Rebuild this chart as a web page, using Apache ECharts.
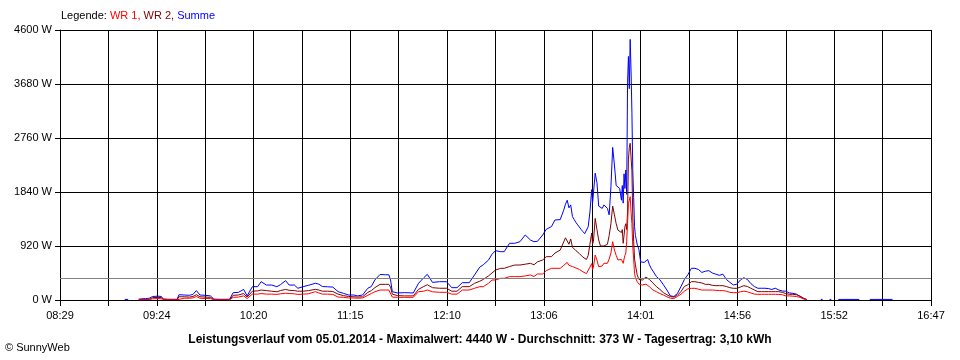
<!DOCTYPE html>
<html>
<head>
<meta charset="utf-8">
<script src="https://cdn.jsdelivr.net/npm/echarts@6/dist/echarts.min.js"></script>
<style>
html,body{margin:0;padding:0;background:#fff;}
#c{width:960px;height:360px;}
</style>
</head>
<body>
<div id="c"></div>
<script>
// ---- data ----
const times = ['09:06','09:08','09:09','09:14','09:18','09:20','09:22','09:25','09:27','09:28','09:32','09:36','09:37','09:40','09:43','09:45','09:47','09:49','09:52','09:55','09:57','10:00','10:03','10:06','10:08','10:11','10:14','10:16','10:19','10:22','10:24','10:27','10:30','10:33','10:35','10:38','10:40','10:43','10:45','10:48','10:51','10:55','10:57','10:59','11:02','11:05','11:08','11:11','11:14','11:17','11:19','11:22','11:25','11:27','11:29','11:32','11:35','11:37','11:38','11:39','11:42','11:46','11:51','11:54','11:57','11:59','12:02','12:06','12:10','12:13','12:16','12:19','12:23','12:26','12:29','12:31','12:34','12:36','12:38','12:41','12:43','12:46','12:49','12:52','12:55','12:58','13:00','13:02','13:05','13:07','13:10','13:12','13:15','13:16','13:17','13:18','13:19','13:20','13:21','13:22','13:23','13:24','13:25','13:26','13:27','13:28','13:29','13:30','13:31','13:32','13:33','13:33:30','13:34','13:35','13:36','13:37','13:38','13:39','13:40','13:41','13:42','13:43','13:44','13:45','13:46','13:47','13:48','13:49','13:50','13:50:30','13:51','13:51:30','13:52','13:52:30','13:53','13:53:30','13:54','13:54:30','13:55','13:55:30','13:56','13:56:30','13:57','13:57:30','13:58','13:59','14:00','14:01','14:02','14:03','14:04','14:05','14:06','14:07','14:08','14:10','14:12','14:14','14:16','14:18','14:20','14:22','14:24','14:26','14:28','14:30','14:32','14:34','14:36','14:38','14:40','14:42','14:44','14:46','14:48','14:50','14:52','14:54','14:56','14:58','15:00','15:02','15:04','15:06','15:08','15:10','15:12','15:14','15:16','15:18','15:20','15:22','15:24','15:26','15:28','15:30','15:32','15:34','15:36','15:37','15:44','15:45','15:46','15:49','15:50','15:51','15:54','16:06','16:07','16:12','16:25'];

const wr1 = [null,null,null,3,4,5,20,25,20,3,3,3,30,30,30,35,60,30,25,25,3,3,3,3,45,50,70,25,100,100,110,100,100,95,105,115,110,105,95,100,105,142,120,100,100,95,50,45,35,35,30,35,80,110,140,170,170,170,140,50,45,45,45,142,150,170,140,131,131,100,100,170,170,200,227,227,285,341,341,370,370,398,398,398,410,426,400,443,443,500,540,540,540,560,590,620,640,590,610,570,560,545,530,520,500,480,460,450,480,560,620,520,560,767,680,568,568,580,625,625,625,700,800,994,850,760,682,682,690,682,625,700,760,800,1000,1300,1647,1700,1760,1500,1300,909,700,455,380,312,270,256,256,260,270,240,227,200,170,142,110,85,55,30,25,60,97,150,190,199,199,185,170,170,170,170,165,160,160,150,130,125,125,140,150,140,120,100,97,97,97,97,97,97,95,90,70,70,65,60,45,20,3,null,null,null,null,null,null,null,null,null,null,null,null];

const wr2 = [null,null,null,5,8,10,40,45,40,5,5,5,55,55,50,60,90,55,50,45,5,5,5,5,80,85,110,50,150,155,170,160,150,140,160,180,165,160,150,150,160,182,170,150,150,145,100,75,60,55,50,55,130,160,210,267,267,267,220,100,75,70,70,182,230,260,210,200,200,150,150,227,227,284,320,350,410,460,511,540,540,570,596,596,610,625,600,650,682,738,738,800,850,920,990,1060,1080,950,1040,900,870,840,810,790,760,730,700,690,760,950,1140,950,1000,1390,1200,1022,920,900,920,900,950,1100,1300,1600,1450,1300,1190,1190,1150,1200,966,1100,1250,1300,1200,1500,2400,2600,2670,2650,2200,1400,1000,700,600,430,350,341,340,360,390,400,350,320,290,227,180,125,90,57,50,80,142,230,260,312,312,300,290,267,267,250,244,244,244,230,210,199,199,220,244,230,200,170,142,142,142,142,142,142,142,130,110,97,97,90,70,30,5,null,null,null,null,null,null,null,null,null,null,null,null];

const summe = [10,10,null,15,25,30,60,65,60,15,12,12,90,85,80,95,160,85,80,70,15,12,12,12,125,130,180,70,227,227,312,255,255,227,260,330,255,255,200,227,250,285,270,230,225,220,142,114,85,85,70,85,200,230,340,435,430,430,340,142,120,125,120,285,380,437,300,312,312,210,210,295,295,426,560,600,680,780,840,823,823,966,966,994,1108,1022,994,1000,1108,1204,1250,1363,1370,1450,1530,1630,1700,1570,1620,1420,1370,1320,1280,1250,1200,1165,1130,1120,1250,1500,1880,1650,1650,2160,2000,1600,1600,1560,1620,1600,1560,1450,1930,2600,2300,1950,1950,1900,1700,1950,1650,2150,1900,2215,1800,3700,4150,3600,4440,3900,3200,2200,1750,1250,1100,950,860,650,625,640,660,690,600,540,510,400,345,260,170,70,60,110,227,350,430,540,540,520,470,490,500,460,440,420,440,350,300,256,270,340,380,350,280,230,200,200,200,195,180,200,170,153,150,120,114,100,60,30,8,null,10,10,null,10,10,null,10,10,null,10,10];

const xTickLabels = ['08:29','09:24','10:20','11:15','12:10','13:06','14:01','14:56','15:52','16:47'];
const average = 373;
const titleText = 'Leistungsverlauf vom 05.01.2014 - Maximalwert: 4440 W - Durchschnitt: 373 W - Tagesertrag: 3,10 kWh';

// ---- helpers ----
const START = 8 * 60 + 29, END = 16 * 60 + 47;
const STEP = (END - START) / 18;
function toX(t) { const p = t.split(':').map(Number); return p[0] * 60 + p[1] + (p[2] || 0) / 60 - START; }
function pairs(vals) { return times.map((t, i) => [toX(t), vals[i] == null ? '-' : vals[i]]); }

const FONT = "'Liberation Sans', Arial, sans-serif";
const chart = echarts.init(document.getElementById('c'), null, { renderer: 'canvas' });

function lineSeries(name, vals, color, extra) {
  return Object.assign({
    name, type: 'line', data: pairs(vals), showSymbol: false, symbol: 'none',
    connectNulls: false, animation: false,
    lineStyle: { color, width: 1 }, itemStyle: { color }
  }, extra || {});
}

chart.setOption({
  animation: false,
  backgroundColor: '#ffffff',
  grid: { left: 60, right: 29, top: 30, bottom: 60, containLabel: false },
  title: {
    text: titleText, left: 'center', top: 329,
    textStyle: { fontFamily: FONT, fontSize: 12, fontWeight: 'bold', color: '#000' }
  },
  graphic: [
    {
      type: 'text', left: 61, top: 10,
      style: {
        text: '{a|Legende: }{b|WR 1, }{c|WR 2, }{d|Summe}',
        rich: {
          a: { fill: '#000', fontFamily: FONT, fontSize: 11 },
          b: { fill: '#ff0000', fontFamily: FONT, fontSize: 11 },
          c: { fill: '#800000', fontFamily: FONT, fontSize: 11 },
          d: { fill: '#0000ff', fontFamily: FONT, fontSize: 11 }
        }
      }
    },
    {
      type: 'text', left: 5, top: 342,
      style: { text: '© SunnyWeb', fill: '#000', fontFamily: FONT, fontSize: 11 }
    }
  ],
  xAxis: {
    type: 'value', min: 0, max: END - START, interval: STEP,
    axisLine: { show: true, lineStyle: { color: '#000', width: 1 } },
    axisTick: { show: true, length: 6, lineStyle: { color: '#000' } },
    splitLine: { show: true, lineStyle: { color: '#000', width: 1 } },
    axisLabel: {
      showMinLabel: true, showMaxLabel: true, hideOverlap: false, margin: 10,
      fontFamily: FONT, fontSize: 11, color: '#000',
      formatter: function (v) {
        const i = Math.round(v / STEP);
        return i % 2 === 0 ? (xTickLabels[i / 2] || '') : '';
      }
    }
  },
  yAxis: {
    type: 'value', min: 0, max: 4600, interval: 920,
    axisLine: { show: true, lineStyle: { color: '#000', width: 1 } },
    axisTick: { show: true, length: 5, lineStyle: { color: '#000' } },
    splitLine: { show: true, lineStyle: { color: '#000', width: 1 } },
    axisLabel: {
      margin: 8, fontFamily: FONT, fontSize: 11, color: '#000',
      formatter: function (v) { return String(Math.round(v)) + ' W'; }
    }
  },
  series: [
    lineSeries('Summe', summe, '#0000ff', {
      markLine: {
        silent: true, symbol: 'none', animation: false,
        label: { show: false },
        lineStyle: { color: '#808080', width: 1, type: 'solid' },
        data: [{ yAxis: average }]
      }
    }),
    lineSeries('WR 2', wr2, '#800000'),
    lineSeries('WR 1', wr1, '#ff0000')
  ]
});
</script>
</body>
</html>
